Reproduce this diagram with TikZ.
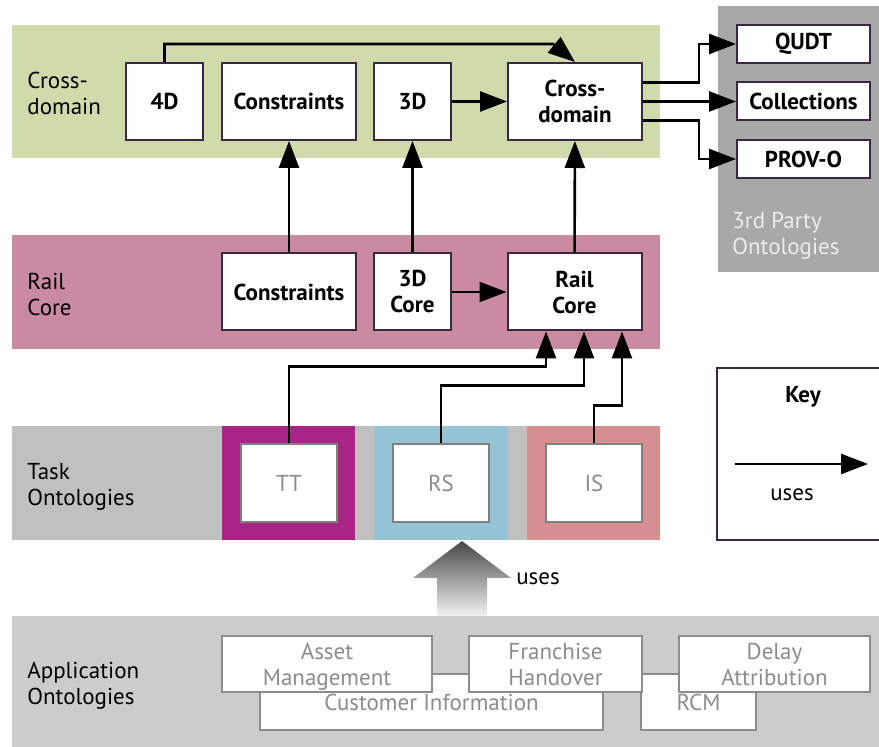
\documentclass[tikz,border=0pt]{standalone}
\usepackage{fontspec}
\setmainfont{PT Sans}
\usetikzlibrary{arrows.meta,calc}
\definecolor{crossband}{HTML}{D0DBAB}
\definecolor{railband}{HTML}{C98AA2}
\definecolor{taskband}{HTML}{C0C0C0}
\definecolor{appband}{HTML}{CCCCCC}
\definecolor{partyband}{HTML}{A8A8A8}
\definecolor{ttcol}{HTML}{A82487}
\definecolor{rscol}{HTML}{94C4D3}
\definecolor{iscol}{HTML}{D69091}
\definecolor{boxline}{HTML}{3A2842}
\definecolor{greytext}{HTML}{8C8C8C}
\begin{document}
\begin{tikzpicture}[x=0.5pt,y=-0.5pt,
  every node/.style={font=\fontsize{11.5}{13}\selectfont},
  layer/.style={anchor=west,align=left,inner sep=0pt},
  ont/.style={draw=boxline,line width=1pt,fill=white,align=center,inner sep=1pt,
    font=\fontsize{11.5}{13}\selectfont\bfseries,minimum height=38.5pt},
  party/.style={ont,minimum width=66.5pt,minimum height=19pt},
  task/.style={draw=gray,line width=1.3pt,fill=white,text=greytext,
    minimum width=48pt,minimum height=39pt},
  app/.style={draw=gray!90,line width=1pt,fill=white,text=greytext,align=center,
    inner sep=0pt,minimum height=28pt},
  uses/.style={line width=1.3pt,-{Triangle[length=13.5pt,width=10pt]}}]
\useasboundingbox (0,0) rectangle (879,747);

\fill[crossband] (12,25) rectangle (660,158);
\fill[railband] (12,235) rectangle (660,349);
\fill[taskband] (12,426) rectangle (660,540);
\fill[ttcol] (222,426) rectangle (355,540);
\fill[rscol] (374,426) rectangle (508,540);
\fill[iscol] (527,426) rectangle (660,540);
\fill[partyband] (718,6) rectangle (879,272);
\fill[appband] (12,616) rectangle (879,747);

\node[layer] at (27,93) {Cross-\\domain};
\node[layer] at (27,295) {Rail\\Core};
\node[layer] at (27,487) {Task\\Ontologies};
\node[layer] at (27,686) {Application\\Ontologies};
\node[layer,text=white!93!black] at (732,236) {3rd Party\\Ontologies};

\node[ont,minimum width=38.5pt] (fourD) at (164.5,101.5) {4D};
\node[ont,minimum width=67pt] (cons) at (289,101.5) {Constraints};
\node[ont,minimum width=38.5pt] (threeD) at (412.5,101.5) {3D};
\node[ont,minimum width=67pt] (cross) at (575,101.5) {Cross-\\domain};

\node[party] (qudt) at (803.5,44) {QUDT};
\node[party] (coll) at (803.5,101.5) {Collections};
\node[party] (prov) at (803.5,159) {PROV-O};

\node[ont,minimum width=67pt] (railcons) at (289,292) {Constraints};
\node[ont,minimum width=38.5pt] (threeDcore) at (412.5,292) {3D\\Core};
\node[ont,minimum width=67pt] (railcore) at (574.5,292) {Rail\\Core};

\node[task] (tt) at (289,483) {TT};
\node[task] (rs) at (441,483) {RS};
\node[task] (is) at (594,483) {IS};

\node[app,minimum width=171.5pt] (cust) at (431.5,702) {Customer Information};
\node[app,minimum width=57.5pt] (rcm) at (698.5,702) {RCM};
\node[app,minimum width=105pt,text depth=0pt] (asset) at (327,664) {Asset\\Management};
\node[app,minimum width=86.5pt,text depth=0pt] (franchise) at (555.5,664) {Franchise\\Handover};
\node[app,minimum width=95.5pt,text depth=0pt] (delay) at (774.5,664) {Delay\\Attribution};

\coordinate (bend) at (553,44);
\draw[uses] (fourD.north) |- (bend) -- (cross.north);
\draw[uses] (threeD) -- (cross);
\draw[uses] ($(cross.east)+(0,-19)$) -- ++(56,0) |- (qudt.west);
\draw[uses] (cross.east) -- (coll.west);
\draw[uses] ($(cross.east)+(0,19)$) -- ++(56,0) |- (prov.west);

\draw[uses] (railcons) -- (cons);
\draw[uses] (threeDcore) -- (threeD);
\draw[uses] (railcore) -- (cross);
\draw[uses] (threeDcore) -- (railcore);

\draw[uses] (tt.north) -- ++(0,-76) -| ($(railcore.south)+(-28.5,0)$);
\draw[uses] (rs.north) -- ++(0,-57) -| ($(railcore.south)+(9.5,0)$);
\draw[uses] (is.north) -- ++(0,-37) -| ($(railcore.south)+(47.5,0)$);

\shade[top color=black!72,bottom color=black!5]
  (462,541) -- (511,578) -- (487,578) -- (487,616) -- (437,616) -- (437,578) -- (413,578) -- cycle;
\node (usesbig) at (538,579) {uses};

\draw[boxline,line width=1pt] (882,368) -| (717,540) -- (882,540);
\node[font=\fontsize{11.5}{13}\selectfont\bfseries] (key) at (803,397) {Key};
\coordinate (keyL) at (735,464);
\coordinate (keyR) at (868,464);
\draw[uses] (keyL) -- (keyR);
\node (keyuses) at (792,495) {uses};
\end{tikzpicture}
\end{document}
